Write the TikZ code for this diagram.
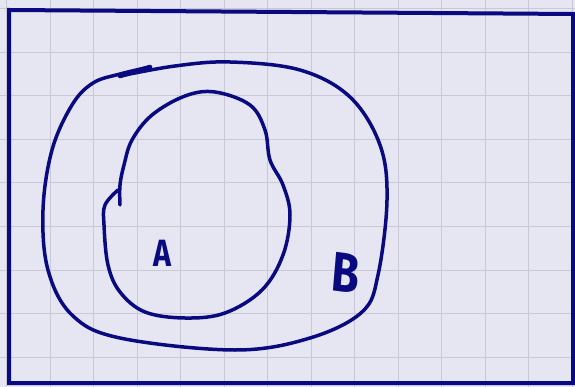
\documentclass[tikz,border=0pt]{standalone}
\usepackage{fontspec}
\setmainfont{Fira Sans}
\definecolor{ink}{RGB}{10,10,128}
\definecolor{paper}{RGB}{229,230,241}
\definecolor{gridc}{RGB}{200,200,215}
\begin{document}
\begin{tikzpicture}[x=1pt,y=-1pt,
  pen/.style={draw=ink,line width=3.5pt,line cap=round,line join=round},
  lbl/.style={text=ink,inner sep=0pt}]
\fill[paper] (0,0) rectangle (575,387);
\useasboundingbox (0,0) rectangle (575,387);
\foreach \i in {0,...,13} {\draw[gridc,line width=0.8pt] ({6.5+43.5*\i},0) -- ({6.5+43.5*\i},387);}
\foreach \j in {0,...,8} {\draw[gridc,line width=0.8pt] (0,{8.5+43.6*\j}) -- (575,{8.5+43.6*\j});}
\draw[ink,line width=4pt] (9,10) -- (573,14) -- (573,383) -- (9,383) -- cycle;
% outer loop B
\draw[pen] plot[smooth,tension=0.6] coordinates {(150,67) (120,74) (93,83) (72,105) (52,150) (43,210) (48,270) (72,315) (120,338) (235,350) (310,338) (362,312) (378,275) (387,200) (380,145) (350,97) (300,70) (230,62) (175,66) (120,76)};
\draw[ink,line width=4.5pt,line cap=round] (150,67) -- (120,76);
% inner loop A
\draw[pen] plot[smooth,tension=0.6] coordinates {(118,190) (105,205) (104,225) (108,265) (120,292) (145,312) (185,318) (225,313) (262,290) (283,255) (290,215) (283,185) (270,160) (265,130) (250,105) (215,92) (185,96) (152,115) (132,140) (124,165) (120,185) (120,205)};
\node[lbl,font=\bfseries\fontsize{38}{38}\selectfont,xscale=0.8] (a) at (162,253) {A};
\node[lbl,font=\bfseries\fontsize{56}{56}\selectfont,xscale=0.8,rotate=-6] (b) at (346,273) {B};
\end{tikzpicture}
\end{document}
